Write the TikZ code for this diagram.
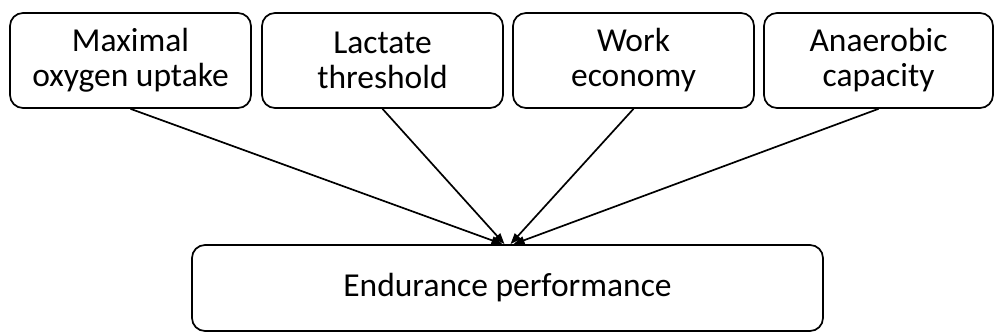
\documentclass[tikz,border=0pt]{standalone}
\usepackage{fontspec}
\setmainfont{Carlito}
\usetikzlibrary{arrows.meta,calc}
\begin{document}
\begin{tikzpicture}[x=1pt,y=-1pt,
  box/.style={draw,line width=1.7pt,rounded corners=13pt,align=center,
    font=\fontsize{33.5}{35}\selectfont,inner sep=0pt},
  topbox/.style={box,minimum height=95pt},
  arr/.style={line width=1.7pt,-{Triangle[length=11pt,width=8pt]}}]
\useasboundingbox (0,0) rectangle (995,336);
\node[topbox,minimum width=241pt] (b1) at (130.5,60.5) {Maximal\\oxygen uptake};
\node[topbox,minimum width=241pt] (b2) at (382.5,60.5) {Lactate\\threshold};
\node[topbox,minimum width=241pt] (b3) at (633.5,60.5) {Work\\economy};
\node[topbox,minimum width=229pt] (b4) at (878.5,60.5) {Anaerobic\\capacity};
\node[box,minimum width=631pt,minimum height=86pt] (e) at (507.5,288) {Endurance performance};
\draw[arr] (b1.south) -- ($(e.north)+(-5,0)$);
\draw[arr] (b2.south) -- ($(e.north)+(-3,0)$);
\draw[arr] (b3.south) -- ($(e.north)+(3,0)$);
\draw[arr] (b4.south) -- ($(e.north)+(6,0)$);
\end{tikzpicture}
\end{document}
